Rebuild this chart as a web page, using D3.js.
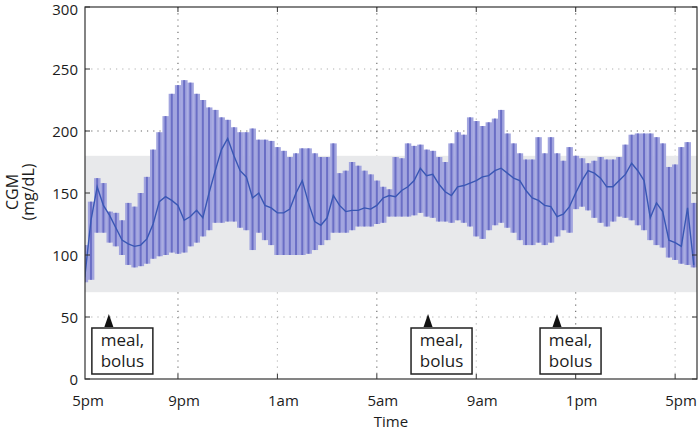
<!DOCTYPE html>
<html>
<head>
<meta charset="utf-8">
<script src="https://cdn.jsdelivr.net/npm/d3@7"></script>
<style>
  body { margin: 0; background: #fff; }
  text { font-family: "Open Sans", "Noto Sans", sans-serif; fill: #1c1c1c; }
</style>
</head>
<body>
<div id="chart"></div>
<script>
// CGM readings, one sample every 15 minutes starting 5:15pm (hours since midnight, >24 = next day)
var startHour = 17.25
var stepHour = 0.25
var highs = [108,143,162,158,135,134,128,142,139,150,163,185,199,212,230,237,241,239,230,225,
  219,217,211,209,203,199,199,202,193,193,192,187,184,179,182,186,186,182,179,179,
  190,166,168,175,172,168,165,160,155,153,179,178,190,188,189,185,184,179,175,190,
  199,197,211,208,204,207,210,217,198,190,182,177,177,195,182,195,182,176,187,180,
  178,174,176,179,177,177,179,189,197,198,198,198,195,190,171,173,187,191,142]
var lows = [78,80,118,118,110,107,100,92,90,91,93,97,99,100,102,101,102,107,110,115,
  120,126,126,127,127,122,120,104,118,112,108,100,100,100,100,100,101,104,108,112,
  118,118,118,120,123,123,123,125,126,131,131,131,131,132,134,131,130,127,127,126,
  128,126,123,115,113,120,124,126,122,118,112,108,108,110,108,110,115,120,118,137,
  139,136,130,126,123,127,131,130,128,124,120,112,108,106,98,96,93,92,90]
var medians = [82,128,155,140,132,122,112,109,107,108,113,125,143,147,144,140,128,131,136,130,
  150,168,185,194,180,168,163,146,150,140,138,134,134,137,150,160,142,127,124,130,
  148,140,135,136,136,138,137,140,146,148,147,152,155,160,170,164,165,157,151,148,
  155,156,158,160,163,164,168,170,166,162,160,152,146,144,140,139,131,133,139,150,
  160,168,166,162,155,155,160,165,174,168,160,130,142,135,112,110,107,138,92]

var targetRange = [70, 180]
var yTicks = [0, 50, 100, 150, 200, 250, 300]
var gridY = [50, 200, 250]
var tickHours = [17, 21, 25, 29, 33, 37, 41]
var tickLabels = ["5pm", "9pm", "1am", "5am", "9am", "1pm", "5pm"]
var mealHours = [18.22, 31.06, 36.25]
var mealText = ["meal,", "bolus"]

var width = 699, height = 432
var pL = 85, pR = 697, pT = 7, pB = 379

var svg = d3.select("#chart").append("svg").attr("width", width).attr("height", height)

var x = d3.scaleLinear().domain([17.26, 41.88]).range([pL, pR])
var y = d3.scaleLinear().domain([0, 300]).range([pB, pT])

var data = highs.map(function(h, i) {
  return { t: startHour + i * stepHour, hi: h, lo: lows[i], med: medians[i] }
})

svg.append("clipPath").attr("id", "plot").append("rect")
  .attr("x", pL).attr("y", pT).attr("width", pR - pL).attr("height", pB - pT)

// dotted grid (drawn first so the band hides it)
var grid = svg.append("g")
grid.selectAll(".gx").data(tickHours.slice(1)).enter().append("line")
  .attr("x1", function(d) { return x(d) }).attr("x2", function(d) { return x(d) })
  .attr("y1", pT).attr("y2", pB)
  .attr("stroke", function(d, i) { return i % 2 == 0 ? "#666" : "#b0b0b0" })
  .attr("stroke-width", 1.1).attr("stroke-dasharray", "1.2,5")
grid.selectAll(".gy").data(gridY).enter().append("line")
  .attr("x1", pL).attr("x2", pR)
  .attr("y1", function(d) { return y(d) }).attr("y2", function(d) { return y(d) })
  .attr("stroke", function(d) { return d == 200 ? "#666" : "#b0b0b0" })
  .attr("stroke-width", 1.1).attr("stroke-dasharray", "1.2,5")

// target band
svg.append("rect")
  .attr("x", pL).attr("width", pR - pL)
  .attr("y", y(targetRange[1])).attr("height", y(targetRange[0]) - y(targetRange[1]))
  .attr("fill", "#e8e9eb")

var plot = svg.append("g").attr("clip-path", "url(#plot)")
var bw = x(startHour + stepHour) - x(startHour)

plot.selectAll(".bar").data(data).enter().append("rect")
  .attr("x", function(d) { return x(d.t) - bw / 2 })
  .attr("width", bw + 0.3)
  .attr("y", function(d) { return y(d.hi) })
  .attr("height", function(d) { return y(d.lo) - y(d.hi) })
  .attr("fill", "#a2a5df")

plot.selectAll(".stick").data(data).enter().append("line")
  .attr("x1", function(d) { return x(d.t) }).attr("x2", function(d) { return x(d.t) })
  .attr("y1", function(d) { return y(d.hi) }).attr("y2", function(d) { return y(d.lo) })
  .attr("stroke", "#6a6ec5").attr("stroke-width", 2)

var line = d3.line().x(function(d) { return x(d.t) }).y(function(d) { return y(d.med) })
plot.append("path").datum(data).attr("d", line)
  .attr("fill", "none").attr("stroke", "#3957b4").attr("stroke-width", 1.4)

// frame and ticks
svg.append("rect").attr("x", pL).attr("y", pT).attr("width", pR - pL).attr("height", pB - pT)
  .attr("fill", "none").attr("stroke", "#333").attr("stroke-width", 1.2)

var ticks = svg.append("g").attr("stroke", "#333").attr("stroke-width", 1)
yTicks.forEach(function(v) {
  ticks.append("line").attr("x1", pL).attr("x2", pL + 5).attr("y1", y(v)).attr("y2", y(v))
  ticks.append("line").attr("x1", pR - 5).attr("x2", pR).attr("y1", y(v)).attr("y2", y(v))
})
tickHours.slice(1).forEach(function(h) {
  ticks.append("line").attr("x1", x(h)).attr("x2", x(h)).attr("y1", pB).attr("y2", pB - 5)
  ticks.append("line").attr("x1", x(h)).attr("x2", x(h)).attr("y1", pT).attr("y2", pT + 5)
})

svg.selectAll(".ylab").data(yTicks).enter().append("text")
  .attr("x", 78).attr("y", function(d) { return Math.max(y(d) + 6, 15) })
  .attr("text-anchor", "end").attr("font-size", 15).text(function(d) { return d })

svg.selectAll(".xlab").data(tickHours).enter().append("text")
  .attr("x", function(d) { return Math.max(x(d) + 6, 88) }).attr("y", 406)
  .attr("text-anchor", "middle").attr("font-size", 15)
  .text(function(d, i) { return tickLabels[i] })

svg.append("text").attr("x", 391).attr("y", 427).attr("text-anchor", "middle")
  .attr("font-size", 15).text("Time")

var ylab = svg.append("text").attr("transform", "translate(18,192) rotate(-90)")
  .attr("text-anchor", "middle").attr("font-size", 16)
ylab.append("tspan").attr("x", 0).attr("dy", 0).text("CGM")
ylab.append("tspan").attr("x", 0).attr("dy", 16).text("(mg/dL)")

// meal / bolus markers
var marks = svg.selectAll(".meal").data(mealHours).enter().append("g")
  .attr("transform", function(d) { return "translate(" + x(d) + ",0)" })
marks.append("path").attr("d", "M0,314 L-4.5,327 L4.5,327 Z").attr("fill", "#111")
marks.append("rect").attr("x", -17).attr("y", 328).attr("width", 61).attr("height", 46)
  .attr("fill", "#fff").attr("stroke", "#222").attr("stroke-width", 1.5)
marks.each(function() {
  var g = d3.select(this)
  mealText.forEach(function(s, i) {
    g.append("text").attr("x", 13.5).attr("y", 346 + i * 21).attr("text-anchor", "middle")
      .attr("font-size", 17).text(s)
  })
})
</script>
</body>
</html>
